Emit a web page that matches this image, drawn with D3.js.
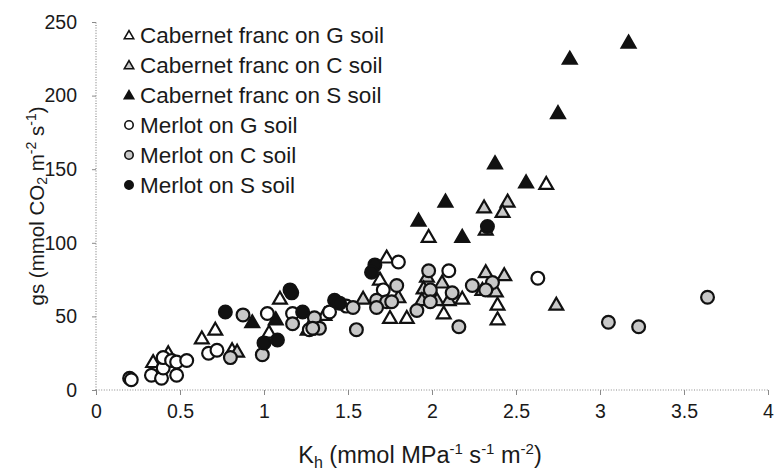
<!DOCTYPE html>
<html>
<head>
<meta charset="utf-8">
<script src="https://cdn.jsdelivr.net/npm/d3@7"></script>
<style>
  html, body { margin: 0; padding: 0; background: #fff; }
  svg { display: block; font-family: "Liberation Sans", Arial, sans-serif; }
</style>
</head>
<body>
<svg id="chart" width="782" height="472"></svg>
<script>
// ---- Data (Kh, gs) ----
const xTicks = [0, 0.5, 1, 1.5, 2, 2.5, 3, 3.5, 4];
const xTickLabels = ["0", "0.5", "1", "1.5", "2", "2.5", "3", "3.5", "4"];
const yTicks = [0, 50, 100, 150, 200, 250];
const yTickLabels = ["0", "50", "100", "150", "200", "250"];

const seriesNames = ["Cabernet franc on G soil", "Cabernet franc on C soil", "Cabernet franc on S soil",
                     "Merlot on G soil", "Merlot on C soil", "Merlot on S soil"];

const cfG = [[2.68,140],[1.98,104],[1.73,90],[1.69,75],[1.75,49],[1.36,51],[1.095,62],[1.03,39],
             [0.34,19],[0.43,25],[0.63,35],[0.71,41],[0.81,27],[1.85,49],[2.07,52],[2.18,62],
             [2.39,58],[2.39,48]];
const cfC = [[2.31,124],[2.45,128],[2.42,121],[2.32,109],[1.59,62],[1.26,41],[0.84,26],[1.80,63],
             [1.97,77],[1.95,69],[1.94,61],[2.03,61],[2.06,73],[2.10,61],[2.32,80],[2.43,78],
             [2.30,68],[2.38,67],[2.74,58]];
const cfS = [[3.17,236],[2.82,225],[2.75,188],[2.375,154],[2.56,141],[2.08,128],[1.92,115],
             [2.18,104],[0.93,46],[1.07,48]];
const meG = [[0.2,8],[0.21,7],[0.33,10],[0.39,8],[0.48,10],[0.40,15],[0.40,22],[0.45,20],[0.48,19],
             [0.54,20],[0.67,25],[0.72,27],[1.02,52],[1.17,52],[1.27,41],[1.39,53],[1.49,57],
             [1.71,68],[1.80,87],[2.10,81],[2.63,76]];
const meC = [[0.80,22],[0.875,51],[0.99,24],[1.17,45],[1.30,49],[1.33,42],[1.29,42],[1.53,56],
             [1.55,41],[1.67,61],[1.73,60],[1.67,56],[1.79,71],[1.76,60],[1.91,54],[1.98,81],
             [1.99,68],[1.99,60],[2.12,66],[2.16,43],[2.24,71],[2.36,73],[2.32,68],[3.05,46],
             [3.23,43],[3.64,63]];
const meS = [[2.33,111],[1.66,85],[1.64,80],[1.42,61],[1.45,59],[1.23,53],[1.155,68],[1.165,66],
             [1.0,32],[1.08,34],[0.77,53]];

const series = [
  {name: seriesNames[0], shape: "tri", fill: "#ffffff", data: cfG},
  {name: seriesNames[1], shape: "tri", fill: "#c8c8c8", data: cfC},
  {name: seriesNames[2], shape: "tri", fill: "#111111", data: cfS},
  {name: seriesNames[3], shape: "circ", fill: "#ffffff", data: meG},
  {name: seriesNames[4], shape: "circ", fill: "#c8c8c8", data: meC},
  {name: seriesNames[5], shape: "circ", fill: "#111111", data: meS}
];

// ---- Layout ----
const svg = d3.select("#chart");
const x = d3.scaleLinear().domain([0, 4]).range([96, 768]);
const y = d3.scaleLinear().domain([0, 250]).range([390, 22]);

const axisColor = "#8a8a8a";

const gx = svg.append("g").attr("transform", `translate(0,${y(0)})`)
  .call(d3.axisBottom(x).tickValues(xTicks).tickFormat((d, i) => xTickLabels[i]).tickSize(5).tickPadding(9));
const gy = svg.append("g").attr("transform", `translate(${x(0)},0)`)
  .call(d3.axisLeft(y).tickValues(yTicks).tickFormat((d, i) => yTickLabels[i]).tickSize(4).tickPadding(15));

[gx, gy].forEach(g => {
  g.select(".domain").attr("stroke", axisColor).attr("stroke-width", 1.2).attr("stroke-dasharray", "1,1.6");
  g.selectAll(".tick line").attr("stroke", axisColor).attr("stroke-width", 1);
  g.selectAll(".tick text").attr("fill", "#1a1a1a").style("font-size", "19.5px")
    .style("font-family", '"Liberation Sans", Arial, sans-serif');
});
gx.select(".domain").attr("d", `M${x(0)},0H${x(4)}`);
gy.select(".domain").attr("d", `M0,${y(0)}V${y(250)}`);

// ---- Markers ----
const triSym = d3.symbol().type(d3.symbolTriangle);
function triPath(size) { return triSym.size(size)(); }

const plot = svg.append("g");
series.forEach(s => {
  const g = plot.append("g");
  if (s.shape === "tri") {
    g.selectAll("path").data(s.data).enter().append("path")
      .attr("d", triPath(82))
      .attr("transform", d => `translate(${x(d[0])},${y(d[1]) + 1})`)
      .attr("fill", s.fill).attr("stroke", "#111").attr("stroke-width", 2.2)
      .attr("stroke-linejoin", "miter");
  } else {
    g.selectAll("circle").data(s.data).enter().append("circle")
      .attr("cx", d => x(d[0])).attr("cy", d => y(d[1])).attr("r", 6.4)
      .attr("fill", s.fill).attr("stroke", "#111").attr("stroke-width", 2.2);
  }
});

// ---- Legend ----
const legend = svg.append("g");
series.forEach((s, i) => {
  const cy = 35 + i * 30;
  if (s.shape === "tri") {
    legend.append("path").attr("d", triPath(38))
      .attr("transform", `translate(129,${cy + 1})`)
      .attr("fill", s.fill).attr("stroke", "#111").attr("stroke-width", 1.6);
  } else {
    legend.append("circle").attr("cx", 129).attr("cy", cy).attr("r", 4.2)
      .attr("fill", s.fill).attr("stroke", "#111").attr("stroke-width", 1.6);
  }
  legend.append("text").attr("x", 140).attr("y", cy + 8)
    .attr("fill", "#1a1a1a").style("font-size", "22.5px").text(s.name);
});

// ---- Axis titles ----
const xt = svg.append("text").attr("x", 420).attr("y", 463).attr("text-anchor", "middle")
  .attr("fill", "#1a1a1a").style("font-size", "23.5px");
xt.append("tspan").text("K");
xt.append("tspan").attr("dy", 5).style("font-size", "16px").text("h");
xt.append("tspan").attr("dy", -5).text(" (mmol MPa");
xt.append("tspan").attr("dy", -9).style("font-size", "15px").text("-1");
xt.append("tspan").attr("dy", 9).text(" s");
xt.append("tspan").attr("dy", -9).style("font-size", "15px").text("-1");
xt.append("tspan").attr("dy", 9).text(" m");
xt.append("tspan").attr("dy", -9).style("font-size", "15px").text("-2");
xt.append("tspan").attr("dy", 9).text(")");

const yt = svg.append("text").attr("transform", `translate(44,${(y(0) + y(250)) / 2}) rotate(-90)`)
  .attr("text-anchor", "middle").attr("fill", "#1a1a1a").style("font-size", "20.5px");
yt.append("tspan").text("gs (mmol CO");
yt.append("tspan").attr("dy", 3).style("font-size", "14px").text("2");
yt.append("tspan").attr("dy", -3).text(" m");
yt.append("tspan").attr("dy", -8).style("font-size", "14px").text("-2");
yt.append("tspan").attr("dy", 8).text(" s");
yt.append("tspan").attr("dy", -8).style("font-size", "14px").text("-1");
yt.append("tspan").attr("dy", 8).text(")");
</script>
</body>
</html>
